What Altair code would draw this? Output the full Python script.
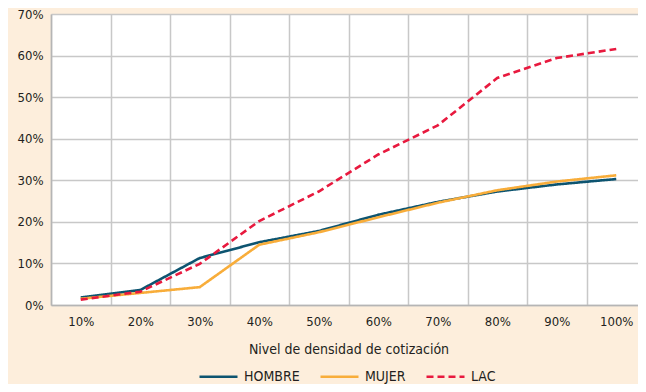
import altair as alt
import pandas as pd

categories = ["10%", "20%", "30%", "40%", "50%", "60%", "70%", "80%", "90%", "100%"]
hombre = [1.8, 3.6, 11.3, 15.1, 17.8, 21.7, 24.8, 27.3, 29.0, 30.3]
mujer = [1.5, 2.9, 4.3, 14.5, 17.5, 21.1, 24.6, 27.6, 29.7, 31.2]
lac = [1.3, 3.2, 9.9, 20.2, 27.3, 36.2, 43.2, 54.6, 59.4, 61.6]
series = ["HOMBRE", "MUJER", "LAC"]
colors = ["#0d5470", "#f8ad3a", "#e8193e"]

rows = []
for name, vals in zip(series, [hombre, mujer, lac]):
    for c, v in zip(categories, vals):
        rows.append({"nivel": c, "valor": v / 100.0, "serie": name})
df = pd.DataFrame(rows)

FONT = "DejaVu Sans Condensed, Liberation Sans Narrow, sans-serif"

leg = dict(title=None, orient="none", direction="horizontal",
           legendX=147, legendY=342,
           symbolType="stroke", symbolSize=1444,
           symbolStrokeWidth=2.6, labelOffset=5, columnPadding=15)

chart = alt.Chart(df).mark_line(strokeWidth=2.6).encode(
    x=alt.X("nivel:N", sort=categories,
            scale=alt.Scale(paddingInner=0, paddingOuter=0),
            axis=alt.Axis(title="Nivel de densidad de cotización", labelAngle=0,
                          tickBand="extent", grid=True, ticks=False,
                          labelPadding=10, titlePadding=14)),
    y=alt.Y("valor:Q", scale=alt.Scale(domain=[0, 0.7], nice=False),
            axis=alt.Axis(format=".0%", values=[0, 0.1, 0.2, 0.3, 0.4, 0.5, 0.6, 0.7],
                          title=None, ticks=False, labelPadding=8)),
    color=alt.Color("serie:N", sort=series,
                    scale=alt.Scale(domain=series, range=colors),
                    legend=alt.Legend(**leg)),
    strokeDash=alt.StrokeDash("serie:N", sort=series,
                              scale=alt.Scale(domain=series, range=[[1, 0], [1, 0], [7, 4]]),
                              legend=alt.Legend(**leg)),
).properties(
    width=595, height=291,
    autosize=alt.AutoSizeParams(type="none"),
    padding={"left": 43, "top": 6, "right": -8, "bottom": 79},
    background="#fdeedc",
).configure_view(
    fill="white", stroke=None,
).configure_axis(
    labelFont=FONT, titleFont=FONT, labelFontSize=13, titleFontSize=14,
    labelColor="#231f20", titleColor="#231f20", titleFontWeight="normal",
    gridColor="#c8c8c8", gridWidth=1.5, domainColor="#b5b5b5", domainWidth=1.5,
).configure_legend(
    labelFont=FONT, labelFontSize=14, labelColor="#231f20",
)

chart.save("out.html", embed_options={"renderer": "svg", "actions": False})
